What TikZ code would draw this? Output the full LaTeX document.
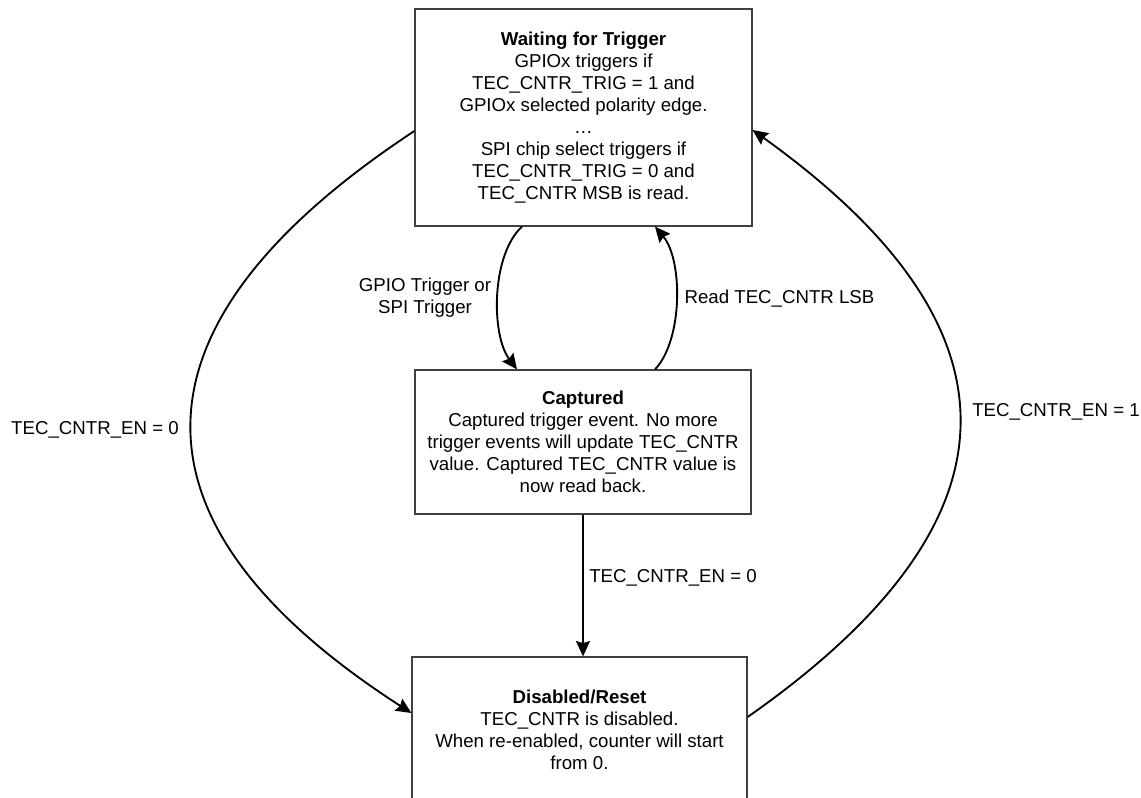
\documentclass[tikz,border=0pt]{standalone}
\usepackage{fontspec}
\setmainfont{Liberation Sans}
\usetikzlibrary{arrows.meta,calc}
\begin{document}
\begin{tikzpicture}[x=0.75pt,y=-0.75pt,
  every node/.style={font=\fontsize{14}{16.5}\selectfont},
  state/.style={draw=black!75, line width=0.9pt, fill=white, inner sep=0pt, align=center},
  conn/.style={line width=1.4pt, -{Stealth[length=11.5pt,width=10.5pt,inset=1.5pt]}},
  lbl/.style={inner sep=0pt, align=center}]
\useasboundingbox (0,0) rectangle (1141,797);
\begin{scope}
\clip (0,0) rectangle (1141,797);
\node[state, minimum width=252.75pt, minimum height=162.75pt] (wait) at (583.5,117.5)
  {\textbf{Waiting for Trigger}\\GPIOx triggers if\\TEC\_CNTR\_TRIG = 1 and\\GPIOx selected polarity edge.\\\dots\\SPI chip select triggers if\\TEC\_CNTR\_TRIG = 0 and\\TEC\_CNTR MSB is read.};
\node[state, minimum width=252pt, minimum height=108pt] (cap) at (583,442)
  {\textbf{Captured}\\Captured trigger event. No more\\trigger events will update TEC\_CNTR\\value. Captured TEC\_CNTR value is\\now read back.};
\node[state, minimum width=251.25pt, minimum height=109.5pt] (dis) at (579.5,730)
  {\textbf{Disabled/Reset}\\TEC\_CNTR is disabled.\\When re-enabled, counter will start\\from 0.};
\end{scope}

% coordinates on box borders
\coordinate (wL) at ($(wait.west)+(0,13.5)$);
\coordinate (wR) at ($(wait.east)+(0,12.5)$);
\coordinate (dL) at ($(dis.west)+(0,-17)$);
\coordinate (dR) at ($(dis.east)+(0,-13)$);
\coordinate (wS1) at ($(wait.south)+(-61.5,0)$);
\coordinate (wS2) at ($(wait.south)+(71.5,0)$);
\coordinate (cN1) at ($(cap.north)+(-66,0)$);
\coordinate (cN2) at ($(cap.north)+(72,0)$);

\draw[conn] (wL) .. controls (118,326) and (118,524) .. (dL);
\draw[conn] (dR) .. controls (1029,520) and (1029,328) .. (wR);
\draw[conn] (wS1) .. controls (491,255) and (491,335) .. (cN1);
\draw[conn] (cN2) .. controls (683,340) and (683,260) .. (wS2);
\draw[conn] (cap.south) -- (cap.south |- dis.north);

\node[lbl] (l1) at (95,430) {TEC\_CNTR\_EN = 0};
\node[lbl] (l2) at (1056,412) {TEC\_CNTR\_EN = 1};
\node[lbl] (l3) at (425,298) {GPIO Trigger or\\SPI Trigger};
\node[lbl] (l4) at (779.5,299) {Read TEC\_CNTR LSB};
\node[lbl, anchor=west] (l5) at (589,578) {TEC\_CNTR\_EN = 0};
\end{tikzpicture}
\end{document}
